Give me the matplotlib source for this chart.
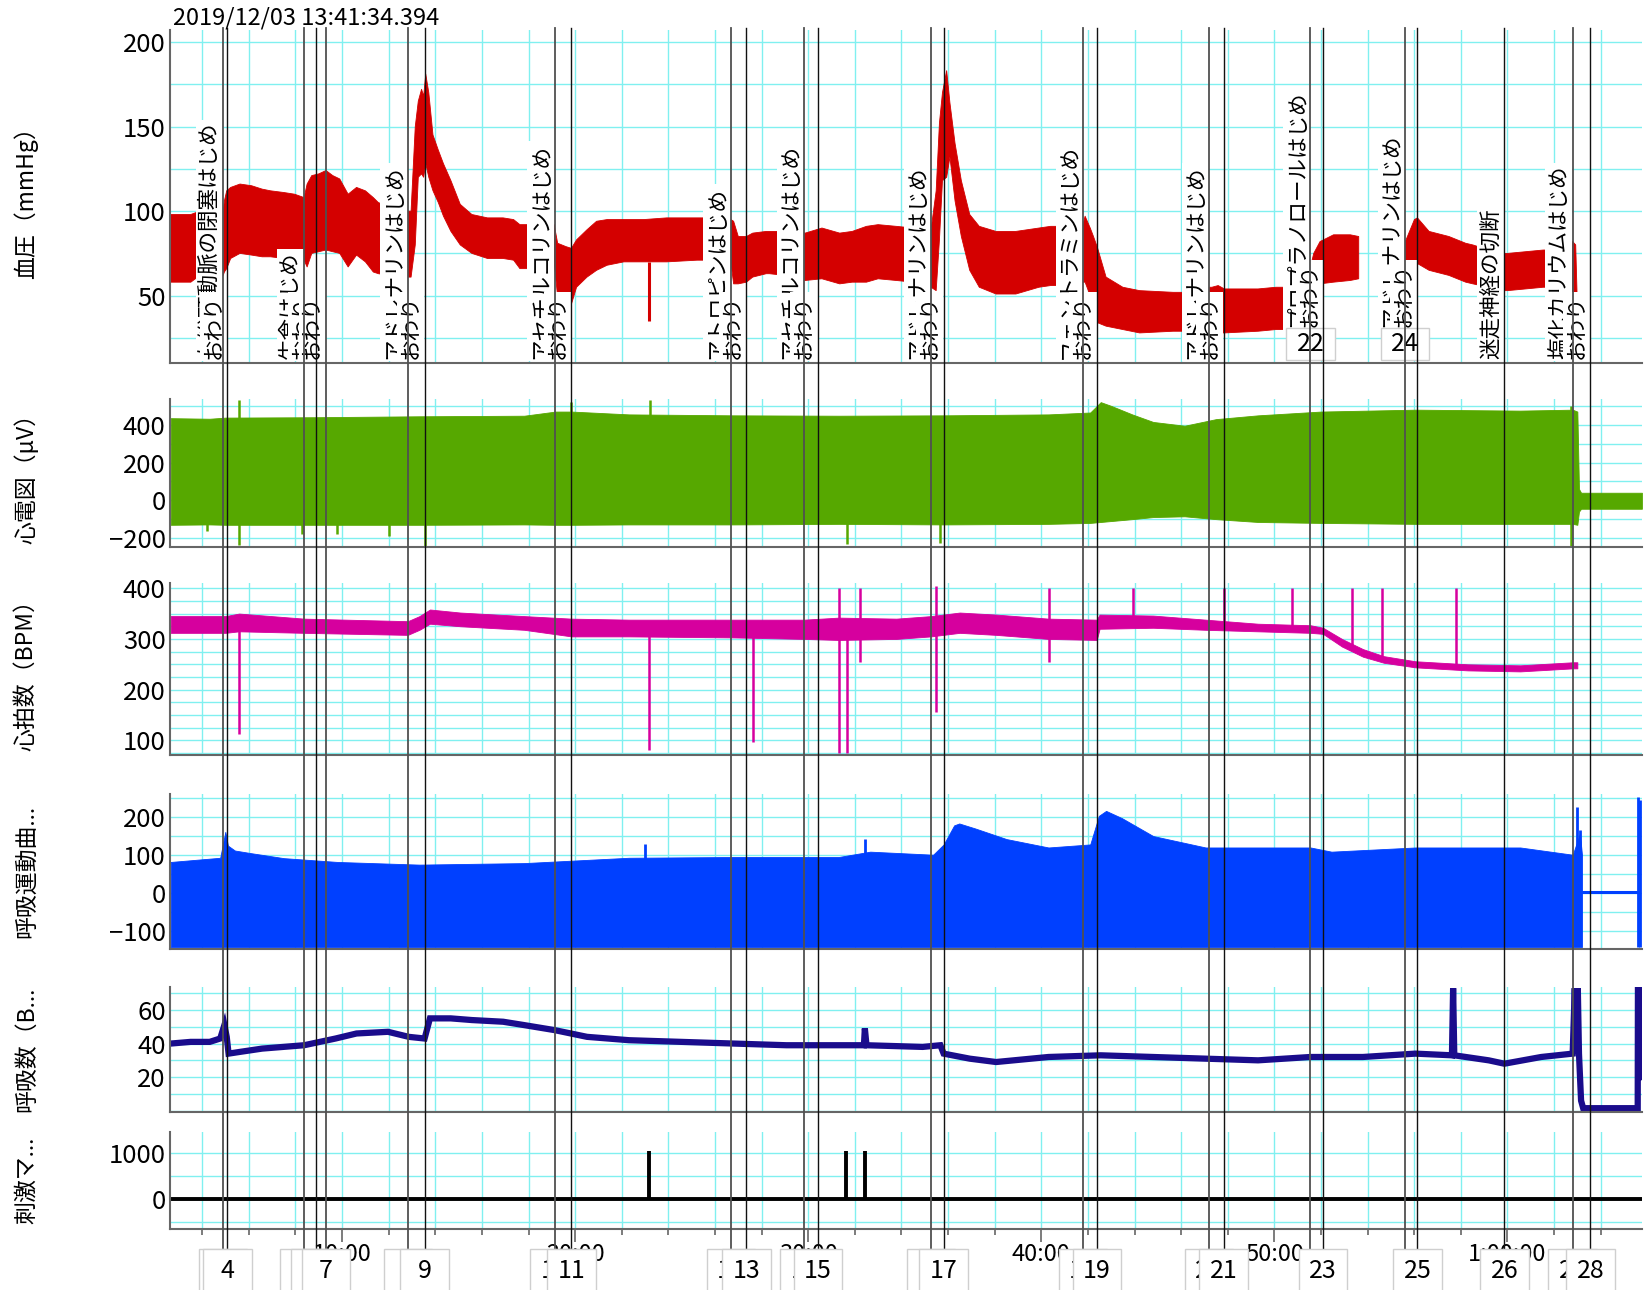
import matplotlib
matplotlib.use("Agg")
import matplotlib.pyplot as plt
import matplotlib.transforms as mtransforms
from matplotlib.patches import Rectangle
from matplotlib.lines import Line2D
from matplotlib.ticker import MultipleLocator, FuncFormatter
import numpy as np

plt.rcParams['font.family'] = ['Noto Sans CJK JP', 'DejaVu Sans']

# ---- data (time in minutes) ----
x_range = (2.61, 65.77)
start_stamp = "2019/12/03 13:41:34.394"

# blood pressure envelope (mmHg)
bp_t = [2.65, 3.00, 3.51, 3.90, 4.90, 4.95, 5.05, 5.22, 5.62, 6.12, 6.57, 6.93, 7.50, 7.96,
        8.37, 8.50, 8.70, 9.00, 9.31, 9.60, 9.90, 10.26, 10.62, 11.00, 11.34, 11.56, 12.00,
        12.82, 12.96, 13.14, 13.27, 13.41, 13.50, 13.59, 13.72, 13.90, 14.13, 14.35, 14.67,
        15.07, 15.57, 16.24, 16.91, 17.36, 17.63, 18.20, 19.10, 19.25, 19.61, 19.84, 20.06,
        20.51, 20.92, 21.37, 22.09, 22.94, 23.93, 25.24, 26.00, 26.68, 26.80, 27.00, 27.35,
        27.62, 28.20, 28.34, 29.00, 29.87, 30.59, 31.35, 31.89, 32.50, 33.00, 33.78, 34.50,
        35.27, 35.49, 35.63, 35.76, 35.94, 36.08, 36.30, 36.57, 36.93, 37.34, 38.06, 38.91,
        39.90, 40.40, 41.20, 41.79, 41.88, 42.10, 42.24, 42.42, 42.78, 43.50, 44.22, 45.66,
        46.50, 47.19, 47.32, 47.59, 47.86, 49.30, 50.07, 51.50, 51.55, 51.69, 51.96, 52.54,
        53.26, 53.62, 53.70, 54.50, 54.55, 55.60, 55.65, 56.01, 56.14, 56.64, 57.49, 58.21,
        58.52, 59.20, 59.87, 60.01, 61.54, 62.20, 62.80, 62.93, 63.00, 63.07]
bp_lo = [58, 58, 58, 62, 62, 64, 66, 72, 75, 74, 73, 73, 72, 72,
         71, 67, 75, 76, 77, 76, 75, 67, 74, 70, 64, 63, 62,
         61, 61, 80, 120, 122, 120, 128, 120, 112, 105, 97, 88,
         80, 75, 72, 72, 71, 66, 66, 70, 49, 49, 45, 55,
         61, 65, 68, 70, 70, 70, 71, 71, 70, 57, 57, 58,
         61, 63, 63, 62, 59, 60, 57, 58, 58, 60, 59, 58,
         55, 53, 83, 118, 120, 132, 106, 85, 65, 55, 51, 51,
         55, 56, 56, 58, 58, 50, 49, 34, 32, 30, 28, 29,
         29, 28, 28, 28, 28, 29, 30, 30, 53, 53, 57, 58,
         59, 60, np.nan, np.nan, 62, 64, 66, 68, 69, 65, 62, 58,
         57, 55, 53, 53, 55, 55, 45, 42, 20, 20]
bp_hi = [98, 98, 98, 100, 100, 106, 112, 114, 116, 115, 113, 112, 111, 110,
         108, 116, 121, 122, 124, 121, 119, 110, 114, 112, 108, 105, 103,
         100, 100, 150, 165, 172, 168, 181, 170, 145, 136, 128, 118,
         104, 98, 96, 96, 95, 92, 92, 92, 81, 79, 78, 83,
         89, 94, 95, 95, 95, 96, 96, 96, 95, 94, 85, 85,
         87, 88, 88, 88, 87, 90, 87, 88, 91, 92, 91, 90,
         89, 112, 152, 170, 183, 164, 140, 118, 98, 91, 88, 88,
         90, 91, 91, 92, 97, 90, 85, 78, 61, 55, 53, 52,
         52, 55, 55, 56, 54, 54, 55, 55, 67, 75, 82, 86,
         86, 85, np.nan, np.nan, 85, 82, 83, 95, 96, 88, 85, 81,
         80, 77, 75, 75, 77, 77, 82, 80, 45, 45]
bp_spike_t = [23.17]
bp_spike_lo = [35]
bp_spike_hi = [70]

# ECG envelope (uV)
ecg_t = [2.65, 4.32, 5.00, 8.82, 13.32, 17.81, 19.16, 19.84, 22.31, 26.81, 31.31, 35.81,
         40.31, 42.10, 42.55, 43.00, 43.90, 44.80, 46.15, 47.50, 49.30, 52.00, 56.05,
         60.55, 62.80, 63.00, 63.07, 63.16, 65.77]
ecg_lo = [-130, -128, -130, -130, -130, -128, -130, -130, -128, -128, -125, -128,
          -125, -120, -115, -110, -100, -89, -85, -100, -115, -120, -125,
          -125, -125, -130, -60, -45, -45]
ecg_hi = [435, 432, 438, 440, 445, 448, 470, 470, 455, 450, 448, 450,
          455, 465, 520, 500, 455, 415, 395, 430, 450, 470, 480,
          475, 480, 470, 60, 40, 40]
ecg_spike_t = [4.20, 5.58, 8.30, 9.80, 12.00, 13.54, 19.84, 23.21, 31.67, 35.67, 62.71]
ecg_spike_lo = [-165, -235, -180, -180, -190, -240, 400, 400, -230, -225, -240]
ecg_spike_hi = [-120, 530, -120, -120, -120, -120, 520, 530, -100, -100, 500]

# heart rate envelope (BPM)
hr_t = [2.65, 5.00, 5.58, 8.37, 12.82, 13.32, 13.77, 15.07, 17.81, 19.84, 22.31, 26.81,
        29.83, 31.31, 33.78, 35.27, 36.50, 38.06, 40.31, 42.38, 42.50, 44.80, 47.05,
        49.30, 51.55, 52.09, 52.90, 53.80, 54.70, 56.05, 58.30, 60.55, 62.80, 63.00]
hr_lo = [312, 312, 315, 312, 308, 318, 330, 325, 318, 305, 305, 303,
         300, 298, 300, 305, 312, 308, 300, 298, 320, 322, 318,
         315, 312, 310, 285, 265, 253, 244, 238, 236, 242, 242]
hr_hi = [345, 345, 350, 340, 335, 345, 358, 352, 345, 340, 338, 338,
         338, 342, 340, 345, 352, 348, 340, 338, 348, 346, 338,
         330, 327, 322, 300, 280, 266, 256, 250, 248, 254, 254]
hr_spike_t = [5.58, 23.17, 27.62, 31.31, 31.67, 32.21, 35.49, 40.35, 43.95, 47.86,
              50.74, 53.35, 54.61, 57.81]
hr_spike_lo = [112, 81, 96, 75, 75, 255, 156, 255, 330, 320, 320, 280, 258, 240]
hr_spike_hi = [330, 320, 320, 400, 320, 400, 404, 400, 400, 400, 400, 400, 400, 400]

# respiration movement envelope
resp_t = [2.65, 4.77, 4.99, 5.10, 5.40, 6.10, 7.50, 9.80, 13.32, 17.81, 22.31, 26.81,
          31.31, 32.66, 35.36, 35.81, 36.26, 36.48, 37.16, 38.51, 40.31, 42.10, 42.47,
          42.78, 43.46, 44.80, 47.05, 51.55, 52.45, 56.05, 60.55, 62.80, 63.11, 63.20]
resp_hi = [82, 93, 161, 125, 112, 105, 92, 82, 75, 79, 93, 95,
           95, 109, 101, 128, 178, 183, 170, 142, 120, 128, 203,
           216, 197, 150, 120, 120, 109, 120, 120, 101, 156, 100]
resp_lo = -141
resp_flat_t = [63.20, 65.59]
resp_flat_v = [2, 2]
resp_spike_t = [22.99, 32.43, 62.98, 63.11, 65.60, 65.70]
resp_spike_lo = [90, 100, 100, 100, -141, -141]
resp_spike_hi = [128, 142, 226, 165, 252, 245]

# respiration rate (breaths/min)
rr_t = [2.65, 3.50, 4.32, 4.77, 4.95, 5.05, 5.13, 5.60, 6.57, 8.37, 9.72, 10.62, 11.97,
        12.86, 13.54, 13.77, 14.66, 15.57, 16.91, 17.81, 19.12, 20.51, 22.31, 24.56,
        26.81, 29.06, 31.31, 32.39, 32.43, 32.50, 34.91, 35.67, 35.81, 36.93, 38.06,
        40.31, 42.55, 44.80, 47.05, 49.30, 51.55, 53.80, 56.05, 57.62, 57.67, 57.72,
        59.20, 59.87, 61.45, 62.80, 62.89, 62.94, 63.02, 63.07, 63.16, 63.25, 65.59,
        65.60, 65.70, 65.72]
rr_v = [40, 41, 41, 43, 51, 44, 34, 35, 37, 39, 43, 46, 47,
        44, 43, 55, 55, 54, 53, 51, 48, 44, 42, 41,
        40, 39, 39, 39, 49, 39, 38, 39, 34, 31, 29,
        32, 33, 32, 31, 30, 32, 32, 34, 33, 73, 33,
        30, 28, 32, 34, 73, 34, 73, 34, 6, 1.5, 1.5,
        73, 73, 20]

# stimulus marker
stim_t = [23.17, 31.62, 32.43]
stim_v = [1040, 1040, 1040]

# comments
comment_no = list(range(3, 29))
comment_t = [4.90, 5.08, 8.37, 8.86, 9.31, 12.82, 13.54, 19.12, 19.84, 26.68, 27.35, 29.83,
             30.41, 35.27, 35.81, 41.79, 42.38, 47.19, 47.82, 51.55, 52.09, 55.60, 56.14,
             59.87, 62.80, 63.56]
comment_text = ["左総頸動脈の閉塞はじめ", "おわり", "生食はじめ", "おわり", "おわり",
                "アドレナリンはじめ", "おわり", "アセチルコリンはじめ", "おわり",
                "アトロピンはじめ", "おわり", "アセチルコリンはじめ", "おわり",
                "アドレナリンはじめ", "おわり", "フェントラミンはじめ", "おわり",
                "アドレナリンはじめ", "おわり", "プロプラノロールはじめ", "おわり",
                "アドレナリンはじめ", "おわり", "迷走神経の切断", "塩化カリウムはじめ", "おわり"]
raised = [22, 23, 24, 25]
top_boxes = [22, 24]
gray_lines = [3, 5, 7, 8, 10, 12, 14, 16, 18, 20, 22, 24, 27]

channel_names = ["血圧（mmHg）", "心電図（μV）", "心拍数（BPM）", "呼吸運動曲...", "呼吸数（B...", "刺激マ..."]

# ---- layout (reference grid 1568 x 1230) ----
W, H = 1568.0, 1230.0


def fx(x):
    return x / W


def fy(y):
    return 1 - y / H


fig = plt.figure(figsize=(16.44, 12.90), dpi=100)
panels = [(29, 346), (380, 522), (556, 720), (757, 905), (941, 1060), (1079, 1172)]
ylims = [(10.3, 206.8), (-250, 539), (71, 410), (-146.8, 260.5), (-0.6, 73.75), (-659, 1454)]
yticks = [[50, 100, 150, 200], [-200, 0, 200, 400], [100, 200, 300, 400],
          [-100, 0, 100, 200], [20, 40, 60], [0, 1000]]
yminor = [25, 100, 25, 50, 10, 500]
grid_c = "#80f0f0"
spine_c = "#666666"

axes = []
for i, (top, bot) in enumerate(panels):
    ax = fig.add_axes([fx(162), fy(bot), fx(1566) - fx(162), (bot - top) / H])
    ax.set_xlim(*x_range)
    ax.set_ylim(*ylims[i])
    ax.set_yticks(yticks[i])
    ax.yaxis.set_minor_locator(MultipleLocator(yminor[i]))
    ax.xaxis.set_major_locator(MultipleLocator(10))
    ax.xaxis.set_minor_locator(MultipleLocator(2))
    ax.set_axisbelow(True)
    ax.grid(True, which="both", color=grid_c, lw=1.0)
    for s in ["top", "right"]:
        ax.spines[s].set_visible(False)
    for s in ["left", "bottom"]:
        ax.spines[s].set_color(spine_c)
        ax.spines[s].set_linewidth(1.5)
    ax.tick_params(axis="y", which="both", length=0, labelsize=18.5, pad=3)
    if i < len(panels) - 1:
        ax.tick_params(axis="x", which="both", length=0, labelbottom=False)
    fig.text(fx(25), fy((top + bot) / 2), channel_names[i], rotation=90,
             ha="center", va="center", fontsize=16.5)
    axes.append(ax)


def time_fmt(m, pos):
    m = int(round(m))
    h, mm = divmod(m, 60)
    return f"{h}:{mm:02d}:00" if h else f"{mm}:00"


axb = axes[-1]
axb.xaxis.set_major_formatter(FuncFormatter(time_fmt))
axb.tick_params(axis="x", which="major", length=9, width=1.2, color=spine_c, labelsize=17, pad=1)
axb.tick_params(axis="x", which="minor", length=4.5, width=1.2, color=spine_c)

# ---- traces ----
bp_lo_a = np.array(bp_lo, dtype=float)
bp_hi_a = np.array(bp_hi, dtype=float)
ok = ~np.isnan(bp_lo_a)
axes[0].fill_between(bp_t, bp_lo_a, bp_hi_a, where=ok, color="#d40000", lw=0.6, zorder=2)
axes[0].vlines(bp_spike_t, bp_spike_lo, bp_spike_hi, color="#d40000", lw=2.2, zorder=2)

axes[1].fill_between(ecg_t, ecg_lo, ecg_hi, color="#56a800", lw=0.6, zorder=2)
axes[1].vlines(ecg_spike_t, ecg_spike_lo, ecg_spike_hi, color="#56a800", lw=1.8, zorder=2)

axes[2].fill_between(hr_t, hr_lo, hr_hi, color="#d6009e", lw=0.6, zorder=2)
axes[2].vlines(hr_spike_t, hr_spike_lo, hr_spike_hi, color="#d6009e", lw=1.8, zorder=2)

axes[3].fill_between(resp_t, resp_lo, resp_hi, color="#0040ff", lw=0.6, zorder=2)
axes[3].plot(resp_flat_t, resp_flat_v, color="#0040ff", lw=2.2, zorder=2)
axes[3].vlines(resp_spike_t, resp_spike_lo, resp_spike_hi, color="#0040ff", lw=2.0, zorder=2)

axes[4].plot(rr_t, rr_v, color="#1a0c8c", lw=4.5, zorder=2, solid_joinstyle="miter")

axes[5].plot(x_range, [0, 0], color="black", lw=2.8, zorder=2)
axes[5].vlines(stim_t, 0, stim_v, color="black", lw=2.8, zorder=2)

# ---- comments ----
ax0 = axes[0]
line_tr = mtransforms.blended_transform_factory(ax0.transData, fig.transFigure)
box_w = 1.04  # minutes, half width of number boxes
for k, (n, t, txt) in enumerate(zip(comment_no, comment_t, comment_text)):
    ybot = 0.107 if n in raised else 0.0126
    ax0.annotate(txt, xy=(t, ybot), xycoords=("data", "axes fraction"),
                 xytext=(-2.0, 0), textcoords="offset points",
                 rotation=90, ha="right", va="bottom", fontsize=15.5,
                 bbox=dict(boxstyle="square,pad=0.12", fc="white", ec="none"),
                 zorder=4 + k * 0.01, annotation_clip=False)

for n, t in zip(comment_no, comment_t):
    c, w = ("#505050", 1.3) if n in gray_lines else ("#111111", 1.0)
    fig.add_artist(Line2D([t, t], [fy(27), fy(1192)], transform=line_tr, color=c, lw=w, zorder=3))

top_tr = mtransforms.blended_transform_factory(ax0.transData, ax0.transAxes)
for k, (n, t) in enumerate(zip(comment_no, comment_t)):
    if n in top_boxes:
        ax0.add_patch(Rectangle((t - box_w, 0.008), 2 * box_w, 0.096, transform=top_tr,
                                fc="white", ec="#cfcfcf", lw=1.0, zorder=6, clip_on=False))
        ax0.text(t, 0.056, str(n), transform=top_tr, ha="center", va="center",
                 fontsize=18, zorder=6.5)
    else:
        fig.add_artist(Rectangle((t - box_w, fy(1240)), 2 * box_w, fy(1191) - fy(1240),
                                 transform=line_tr, fc="white", ec="#cfcfcf", lw=1.0,
                                 zorder=10 + k * 0.1, clip_on=False))
        fig.add_artist(plt.Text(t, fy(1212), str(n), transform=line_tr, ha="center",
                                va="center", fontsize=18, zorder=10.05 + k * 0.1))

fig.text(fx(165), fy(17), start_stamp, fontsize=17, ha="left", va="center")

fig.savefig("out.png", dpi=100)
